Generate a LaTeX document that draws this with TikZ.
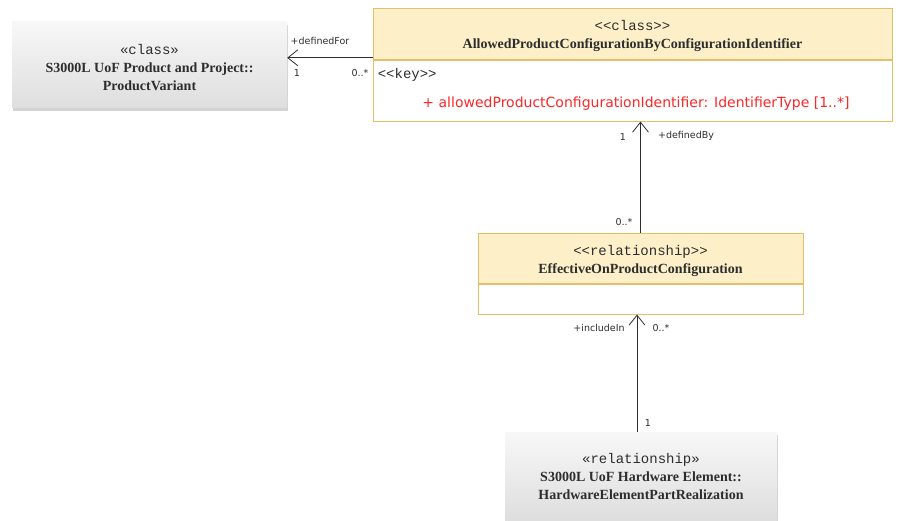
\documentclass[tikz,border=0pt]{standalone}
\usepackage{fontspec}
\setmainfont{Liberation Serif}
\setsansfont{DejaVu Sans}
\setmonofont{Liberation Mono}
\usetikzlibrary{
  arrows.meta,
  positioning,
  shadows
}
\definecolor{hdryellow}{RGB}{253,240,201}
\definecolor{hdrgold}{RGB}{228,190,104}
\definecolor{inkgray}{RGB}{45,45,45}
\definecolor{attrred}{RGB}{250,40,40}
\definecolor{extgray}{RGB}{222,222,222}
\tikzset{
  hdr/.style={draw=hdrgold,thick,fill=hdryellow,align=center,
    inner sep=2pt,text=inkgray,font=\fontsize{14}{18}\selectfont},
  body/.style={draw=hdrgold,thick,fill=white,inner sep=0pt},
  ext/.style={top color=gray!6,bottom color=extgray,align=center,
    inner sep=2pt,text=inkgray,font=\fontsize{14}{18}\selectfont,
    drop shadow={shadow xshift=1pt,shadow yshift=-3pt,opacity=0.35}},
  assoc/.style={-{Straight Barb[length=10pt,width=16pt]},thick,draw=inkgray},
  lab/.style={font=\sffamily\fontsize{9.5}{11}\selectfont,text=inkgray,
    inner sep=1pt},
  keylab/.style={font=\ttfamily\fontsize{14}{16}\selectfont,text=inkgray,
    inner sep=1pt},
  attr/.style={font=\sffamily\fontsize{14}{16}\selectfont,text=attrred,
    inner sep=1pt}
}
% stereotype line, with a strut that lowers the block a little
\newcommand{\ster}[1]{{\ttfamily\rule{0pt}{15pt}#1}}
\newcommand{\cname}[1]{{\bfseries #1}}

\begin{document}
\begin{tikzpicture}[x=1pt,y=-1pt]
  \useasboundingbox (0,0) rectangle (898,521);
  % classes
  \node[hdr,minimum width=519pt,minimum height=51pt,anchor=north] (apcHdr)
    at (632.5,8) {\ster{<<class>>}\\
    \cname{AllowedProductConfigurationByConfigurationIdentifier}};
  \node[body,minimum width=519pt,minimum height=61pt,below=0pt of apcHdr]
    (apcBody) {};
  \node[keylab,anchor=north west] (apcKey)
    at ([xshift=4pt,yshift=-7pt]apcBody.north west) {<<key>>};
  \node[attr] (apcAttr) at (636,104)
    {+ allowedProductConfigurationIdentifier: IdentifierType [1..*]};
  \node[ext,minimum width=275pt,minimum height=86pt] (pvar) at (149.5,65)
    {\ster{«class»}\\
    \cname{S3000L UoF Product and Project::}\\
    \cname{ProductVariant}};
  \node[hdr,minimum width=325pt,minimum height=50pt,anchor=north] (eocHdr)
    at (640.5,233) {\ster{<<relationship>>}\\
    \cname{EffectiveOnProductConfiguration}};
  \node[body,minimum width=325pt,minimum height=30pt,below=0pt of eocHdr]
    (eocBody) {};
  \node[ext,minimum width=272pt,minimum height=88pt,anchor=north] (hwpr)
    at (641,432) {{\ttfamily «relationship»}\\
    \cname{S3000L UoF Hardware Element::}\\
    \cname{HardwareElementPartRealization}};
  % associations
  \draw[assoc] ([yshift=2pt]apcHdr.south west)
    -- ([yshift=2pt]apcHdr.south west -| pvar.east);
  \draw[assoc] (eocHdr.north) -- (eocHdr.north |- apcBody.south);
  \draw[assoc] ([xshift=-4pt]hwpr.north)
    -- ([xshift=-4pt]hwpr.north |- eocBody.south);
  % roles and multiplicities
  \node[lab] (roleFor) at (320,41) {+definedFor};
  \node[lab] (multPv) at (297,73) {1};
  \node[lab] (multApc) at (360,73) {0..*};
  \node[lab] (multBy) at (623,137) {1};
  \node[lab] (roleBy) at (686,136) {+definedBy};
  \node[lab] (multEoc) at (624,222) {0..*};
  \node[lab] (roleIn) at (599,328) {+includeIn};
  \node[lab] (multIn) at (661,328) {0..*};
  \node[lab] (multHw) at (648,423) {1};
\end{tikzpicture}
\end{document}
